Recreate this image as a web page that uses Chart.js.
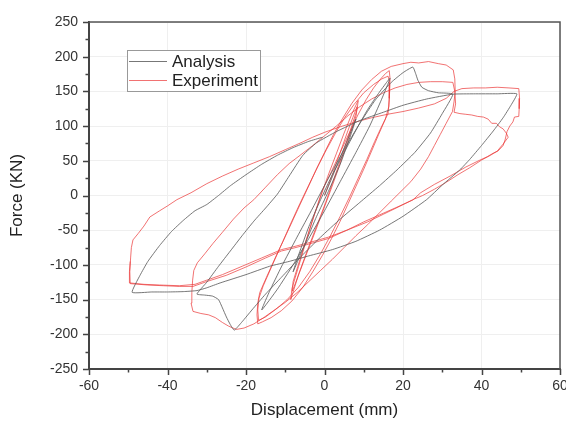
<!DOCTYPE html>
<html><head><meta charset="utf-8">
<script src="https://cdn.jsdelivr.net/npm/chart.js@4.4.1/dist/chart.umd.min.js"></script>
<style>html,body{margin:0;padding:0;background:#fff;}</style>
</head><body>
<canvas id="c" width="566" height="425"></canvas>
<script>
const seriesNames = ['Analysis', 'Experiment'];
const xTicks = [-60, -40, -20, 0, 20, 40, 60];
const yTicks = [-250, -200, -150, -100, -50, 0, 50, 100, 150, 200, 250];

// [displacement (mm), force (KN)]
const analysis = [
[0,0],[2,27],[4,55],[6,82],[8,110],[6.5,84],[4,45],[1,6],[-2,-30],[-5,-70],[-8,-110],[-6.5,-84],[-4,-45],[-1,-6],[2,30],
[5,62],[8,94],[11,124],[14,149],[16.7,169],[14.5,138],[11.5,100],[8,62],[4,20],[0,-22],[-4,-62],[-8,-100],[-12,-135],[-16,-165],
[-14,-138],[-11,-103],[-7,-60],[-3,-18],[1,25],[5,66],[9,104],[13,138],[17,163],[20,177],[22.5,185],[23.2,176],[23.8,166],[24.8,156],
[26.5,151],[29,148],[32.7,146],[30,118],[27,90],[23,62],[18.5,37],[14,14],[9,-10],[4,-34],[-1,-60],[-6,-88],[-11,-118],[-15,-142],
[-18.5,-165],[-21,-182],[-23,-194],[-24,-186],[-25,-175],[-26,-162],[-27,-150],[-28.5,-145],[-30.5,-143.5],[-32.5,-142],
[-30,-125],[-27,-102],[-24,-80],[-21,-58],[-18,-37],[-15,-18],[-12,2],[-9,28],[-5.5,58],[-2,76],[3,92],[9,108],[15,120],[20,130],
[26,139],[32.7,146],[38,146.5],[44,146.5],[49,146.5],[47.5,130],[45.5,112],[43,93],[40,72],[37,52],[34.5,37],[30,15],[26,-6],
[20,-30],[14,-50],[8,-66],[2,-78],[-4,-87],[-9,-95],[-14,-102],[-20,-114],[-26.6,-126],[-30,-133],[-32.5,-137],[-36,-138.5],
[-40,-139],[-44,-139],[-49,-139.5],[-47,-115],[-45,-95],[-42,-72],[-39,-52],[-36,-36],[-33,-22],[-30,-13],[-27,0],[-24,14],
[-20,30],[-16,45],[-12,58],[-8,69],[-4,78],[-0.5,84]
];

const experiment = [
[0,0],[1.5,22],[3,46],[4.5,70],[6,94],[7.2,112],[8.3,128],[8.1,116],[7,96],[5.2,66],[3.5,38],[1.6,8],[-0.5,-24],[-2.5,-54],[-4.5,-83],
[-6.3,-110],[-8.2,-138],[-8,-124],[-6.8,-102],[-5,-70],[-3.2,-38],[-1.2,-5],[0.8,27],[3,60],[5,90],[7,118],[8.6,137],[8.3,124],[6.6,94],
[4.5,58],[2.4,24],[0.3,-10],[-2,-44],[-4.3,-78],[-6.5,-112],[-8.6,-150],[-8.3,-134],[-6.6,-102],[-4.6,-64],[-2.5,-26],
[-0.5,8],[1.8,35],[4,62],[6.3,90],[8.5,116],[10.6,138],[12.5,155],[14.3,168],[15.6,176],[16.5,180],[16.7,168],[16.6,150],[16.4,128],
[15.5,110],[13.8,88],[12,64],[10,38],[8,13],[6,-12],[4,-37],[1.8,-62],[-0.5,-86],[-3,-110],[-5.6,-133],[-8.3,-152],[-11,-166],
[-13.6,-176],[-15.8,-182],[-17,-185],[-17.2,-172],[-17,-155],[-16.5,-140],
[-14.8,-118],[-12.8,-93],[-10.6,-66],[-8.4,-38],[-6.3,-12],[-4,15],[-1.8,41],[0.5,66],[2.8,90],[5,111],[7.5,131],[10,148],[12.5,160],
[14.6,168],[16.2,172],[16.6,162],[16.5,140],[16.2,118],[14.6,100],[12.8,78],[10.8,52],[8.6,25],[6.4,-2],[4,-30],[1.6,-57],[-1,-84],
[-3.8,-110],[-6.6,-132],[-9.5,-150],[-12.4,-164],[-15,-175],[-16.8,-180],[-17,-165],[-16.7,-148],[-15.6,-130],
[-13.5,-103],[-11.3,-75],[-9,-47],[-6.8,-20],[-4.5,8],[-2.2,36],[0,62],[2.3,88],[4.6,111],[7,133],[9.5,152],[12,167],[14.5,179],
[17,186],[20,190],[22,192],[24,191],[26.5,193],[29,190],[31,188],[32.8,181],[33.2,168],[33.3,150],[33,135],[32.6,121],[31,104],
[29.5,88],[28,72],[26.5,56],[24.5,38],[22,20],[19.5,6],[17,-8],[14,-25],[11,-42],[8,-58],[5,-75],[2,-92],[-1,-108],[-4,-124],
[-7,-140],[-10,-154],[-13,-166],[-15.5,-176],[-18,-185],[-20.5,-191],[-22.5,-193],[-24.5,-188],[-26,-183],[-27.8,-176],[-29.5,-172],
[-31.5,-170],[-33.5,-167],[-34,-155],[-33.8,-140],[-33.6,-122],[-33.3,-108],[-32.4,-97],[-30.5,-84],[-28.4,-69],[-26,-53],
[-23.2,-34],[-20.5,-18],[-18,-6],[-15,12],[-12,30],[-9,46],[-6.2,58],[-3,72],[0,86],[3,100],[6,115],[9,128],[12,139],[15,148],
[18,155],[21,160],[24,163],[27,164],[30,164],[32.7,163],
[33.2,150],[33.4,132],[33,120],[34.5,118],[36,117],[37.5,116],[39,114],[40.5,113],[41.7,110],[42.6,104],[43.8,104],[44.6,99],
[45.5,96],[46.3,90],[46.8,84],[45.5,74],[44,64],[42.3,58],[40,51],[37,40],[34,30],[31,19],[28,9],[25,0],[22.5,-6],[19,-16],
[15,-27],[11,-38],[5.7,-50],[1,-62],[-4,-70],[-8,-76],[-11,-80],[-15,-90],[-20,-103],[-25,-115],[-30,-124],[-33.5,-131],
[-37,-131],[-41,-130],[-45,-129],[-49.5,-127],[-49.6,-110],[-49.4,-90],[-49.2,-75],[-48.8,-64],[-47.5,-55],[-46,-44],[-44.5,-31],
[-42,-22],[-40,-15],[-37.6,-6],[-34,4],[-30,17],[-26,28],[-22,38],[-18,47],[-14,56],[-10,66],[-6,76],[-3,84],[0,91],[4,99],
[8,106],[12,112],[16,117],[20,121],[24,126],[28,132],[31,140],[33,150],[35,154],[38,155],[41,155],[44,156],[47,155],[49.5,154],
[49.7,140],[49.6,125],[49.5,114],[48.4,113],[48,106],[47.2,100],[46.5,92],[46,80],[45.5,72],[44.2,64],[43,61],[41.5,56],
[39.6,51],[36,41],[32,28],[28,16],[24.5,4],[22.5,-6.5],[18,-18],[14,-28],[10,-38],[5.7,-50],[1,-60],[-4,-68],[-8,-74],[-11,-78],
[-16,-90],[-21,-102],[-26,-114],[-30,-122],[-33,-128],[-37,-130],[-42,-129],[-46,-128],[-49.6,-126],[-49.7,-110],[-49.5,-95]
];

const FAMILY = '"Liberation Sans", Arial, sans-serif';
const GRAY = 'rgba(95,95,95,0.85)';
const RED = 'rgba(236,60,60,0.72)';

const toPts = arr => arr.map(p => ({x: p[0], y: p[1]}));

const decor = {
  id: 'decor',
  afterDraw(chart) {
    const ctx = chart.ctx;
    const a = chart.chartArea;
    const xs = chart.scales.x, ys = chart.scales.y;
    ctx.save();
    ctx.strokeStyle = '#555';
    ctx.lineWidth = 1.5;
    ctx.beginPath();
    ctx.moveTo(a.left, a.top); ctx.lineTo(a.right, a.top); ctx.lineTo(a.right, a.bottom);
    ctx.stroke();
    ctx.strokeStyle = '#444';
    ctx.lineWidth = 1.5;
    ctx.beginPath();
    for (let v = xs.min; v <= xs.max; v += 10) {
      const px = Math.round(xs.getPixelForValue(v)) + 0.5;
      const len = (v % 20 === 0) ? 6 : 3.5;
      ctx.moveTo(px, a.bottom); ctx.lineTo(px, a.bottom + len);
    }
    for (let v = ys.min; v <= ys.max; v += 25) {
      const py = Math.round(ys.getPixelForValue(v)) + 0.5;
      const len = (v % 50 === 0) ? 6 : 3.5;
      ctx.moveTo(a.left - len, py); ctx.lineTo(a.left, py);
    }
    ctx.stroke();
    const bx = 127.5, by = 50.5, bw = 133, bh = 41;
    ctx.fillStyle = '#fff';
    ctx.fillRect(bx, by, bw, bh);
    ctx.strokeStyle = '#999';
    ctx.lineWidth = 1;
    ctx.strokeRect(bx, by, bw, bh);
    const ds = chart.data.datasets;
    const rows = [61, 80];
    ctx.font = '17px ' + FAMILY;
    ctx.textBaseline = 'middle';
    ctx.textAlign = 'left';
    ds.forEach((d, i) => {
      ctx.strokeStyle = d.borderColor;
      ctx.lineWidth = 1.2;
      ctx.beginPath();
      ctx.moveTo(129, rows[i] + 0.5); ctx.lineTo(167, rows[i] + 0.5);
      ctx.stroke();
      ctx.fillStyle = '#222';
      ctx.fillText(d.label, 172, rows[i] + 1);
    });
    ctx.restore();
  }
};

new Chart(document.getElementById('c'), {
  type: 'scatter',
  data: {
    datasets: [
      { label: seriesNames[0], data: toPts(analysis), showLine: true, borderColor: GRAY, borderWidth: 1,
        pointRadius: 0, tension: 0.15, order: 0 },
      { label: seriesNames[1], data: toPts(experiment), showLine: true, borderColor: RED, borderWidth: 1,
        pointRadius: 0, tension: 0, order: 1 }
    ]
  },
  options: {
    responsive: false,
    animation: false,
    layout: { padding: { left: 0, right: 6, top: 22, bottom: 0 } },
    plugins: { legend: { display: false }, tooltip: { enabled: false } },
    scales: {
      x: {
        type: 'linear', min: xTicks[0], max: xTicks[xTicks.length - 1],
        afterBuildTicks(s) { s.ticks = xTicks.map(v => ({ value: v })); },
        ticks: { font: { family: FAMILY, size: 14 }, color: '#333', padding: 9, maxRotation: 0, autoSkip: false },
        grid: { color: '#efefef', lineWidth: 1, drawTicks: false },
        border: { display: true, color: '#444', width: 2 },
        title: { display: true, text: 'Displacement (mm)', color: '#222', font: { family: FAMILY, size: 17 }, padding: { top: 0, bottom: 4 } },
        afterFit(s) { s.height = 56; s.paddingLeft = 0; s.paddingRight = 0; }
      },
      y: {
        type: 'linear', min: yTicks[0], max: yTicks[yTicks.length - 1],
        afterBuildTicks(s) { s.ticks = yTicks.map(v => ({ value: v })); },
        ticks: { font: { family: FAMILY, size: 14 }, color: '#333', padding: 11, autoSkip: false },
        grid: { color: '#efefef', lineWidth: 1, drawTicks: false },
        border: { display: true, color: '#444', width: 2 },
        title: { display: true, text: 'Force (KN)', color: '#222', font: { family: FAMILY, size: 17 }, padding: { top: 7, bottom: 0 } },
        afterFit(s) { s.width = 89; s.paddingTop = 0; s.paddingBottom = 0; }
      }
    }
  },
  plugins: [decor]
});
</script>
</body></html>
